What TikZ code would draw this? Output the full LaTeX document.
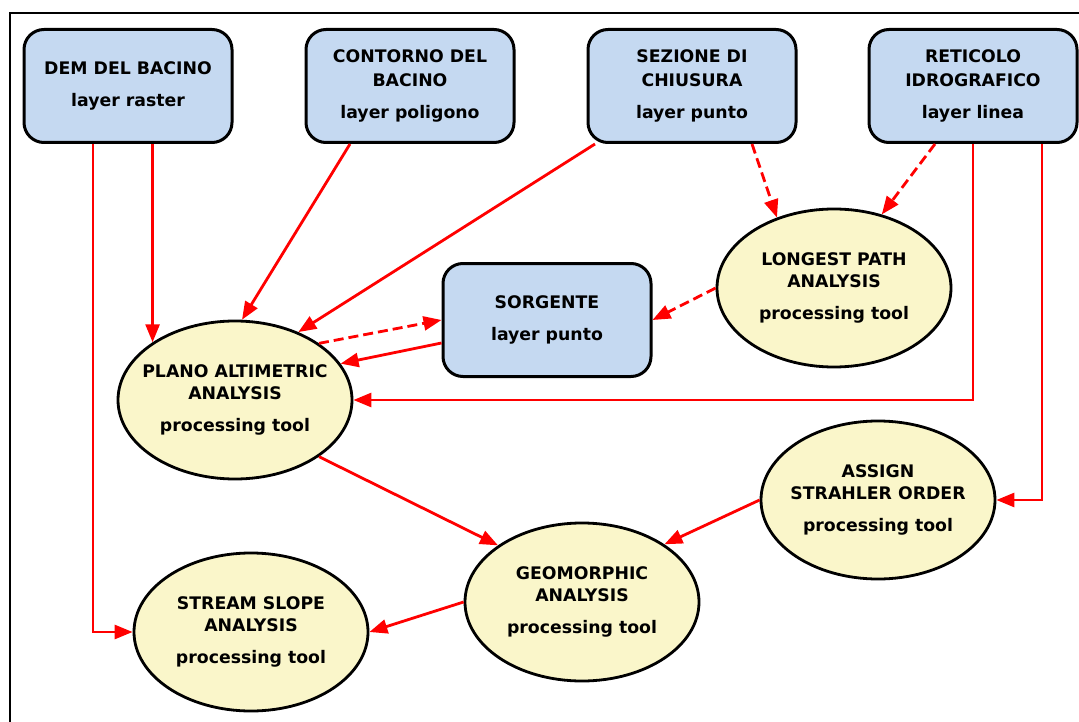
\documentclass[tikz,border=0pt]{standalone}
\usepackage{fontspec}
\setmainfont{DejaVu Sans}
\usepackage{xcolor}
\usetikzlibrary{arrows.meta,shapes.geometric}

\definecolor{layerblue}{RGB}{197,217,241}
\definecolor{toolyellow}{RGB}{250,246,202}
\definecolor{flowred}{RGB}{255,0,0}

\begin{document}
\begin{tikzpicture}[x=1pt,y=-1pt,
    layer/.style={draw, line width=3pt, rounded corners=20pt, fill=layerblue,
        minimum width=208pt, minimum height=113pt, align=center,
        font=\fontsize{17.3}{23.5}\selectfont\bfseries},
    tool/.style={ellipse, draw, line width=2.8pt, fill=toolyellow,
        minimum width=234pt, minimum height=158pt, inner sep=0pt},
    tooltext/.style={align=center, font=\fontsize{17.3}{22}\selectfont\bfseries},
    flow/.style={-{Triangle[length=18pt,width=14pt]}, line width=2.8pt, flowred},
    optflow/.style={flow, dash pattern=on 10pt off 5pt}]

    \useasboundingbox (0,0) rectangle (1079,722);

    % frame
    \draw[line width=2.5pt] (10,730) -- (10,13) -- (1090,13);

    % input layers
    \node[layer] (dem) at (128,86) {DEM DEL BACINO\\[9pt]layer raster};
    \node[layer] (contorno) at (410,86) {CONTORNO DEL\\BACINO\\[9pt]layer poligono};
    \node[layer] (sezione) at (692,86) {SEZIONE DI\\CHIUSURA\\[9pt]layer punto};
    \node[layer] (reticolo) at (973,86) {RETICOLO\\IDROGRAFICO\\[9pt]layer linea};
    \node[layer] (sorgente) at (547,320) {SORGENTE\\[9pt]layer punto};

    % processing tools
    \node[tool] (plano) at (235,400) {};
    \node[tooltext] (planotext) at (plano) {PLANO ALTIMETRIC\\ANALYSIS\\[10pt]processing tool};
    \node[tool] (longest) at (834,288) {};
    \node[tooltext] (longesttext) at (longest) {LONGEST PATH\\ANALYSIS\\[10pt]processing tool};
    \node[tool] (assign) at (878,500) {};
    \node[tooltext] (assigntext) at (assign) {ASSIGN\\STRAHLER ORDER\\[10pt]processing tool};
    \node[tool] (geomorph) at (582,602) {};
    \node[tooltext] (geomorphtext) at (geomorph) {GEOMORPHIC\\ANALYSIS\\[10pt]processing tool};
    \node[tool] (stream) at (251,632) {};
    \node[tooltext] (streamtext) at (stream) {STREAM SLOPE\\ANALYSIS\\[10pt]processing tool};

    % connections
    \draw[flow] (dem.south -| plano.145) -- (plano.145);
    \draw[flow] ([xshift=-35pt]dem.south) |- (stream.west);
    \draw[flow] ([xshift=-60pt]contorno.south) -- (plano.85);
    \draw[flow] ([xshift=-97pt]sezione.south) -- (plano.47);
    \draw[optflow] (plano.34) -- (sorgente.west);
    \draw[flow] ([yshift=-23pt]sorgente.west) -- (plano.19);
    \draw[optflow] (longest.west) -- (sorgente.east);
    \draw[optflow] ([xshift=60pt]sezione.south) -- (longest.129);
    \draw[optflow] ([xshift=-38pt]reticolo.south) -- (longest.57);
    \draw[flow] (reticolo.south) |- (plano.east);
    \draw[flow] ([xshift=69pt]reticolo.south) |- (assign.east);
    \draw[flow] (plano.-34) -- (geomorph.146);
    \draw[flow] (assign.west) -- (geomorph.35);
    \draw[flow] (geomorph.west) -- (stream.east);
\end{tikzpicture}
\end{document}
